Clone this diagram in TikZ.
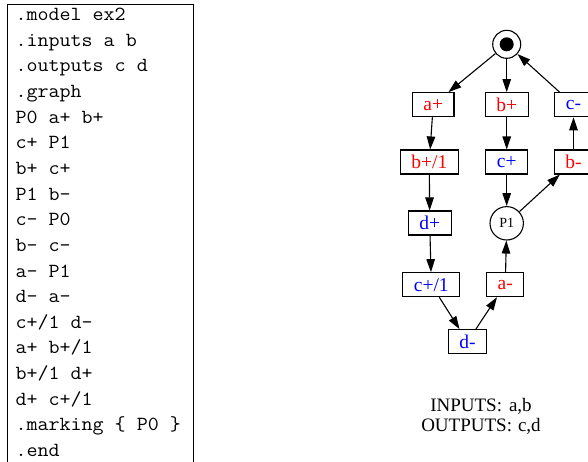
\documentclass[tikz,border=0pt]{standalone}
\usepackage{fontspec}
\usepackage{graphicx}
\newfontfamily\gvfont{Liberation Serif}
\usetikzlibrary{arrows.meta}
\definecolor{sigred}{RGB}{255,0,0}
\definecolor{sigblue}{RGB}{0,0,255}

\begin{document}
\begin{tikzpicture}[x=1pt, y=-1pt, line width=1.1pt,
  trans/.style={draw, rectangle, inner xsep=11pt, inner ysep=0pt, minimum height=24pt,
    font=\gvfont\fontsize{19.5}{20}\selectfont},
  insig/.style={trans, text=sigred},
  outsig/.style={trans, text=sigblue},
  place/.style={draw, circle, inner sep=0pt, font=\gvfont\fontsize{14}{14}\selectfont},
  arc/.style={-{Triangle[length=13pt, width=8.5pt]}},
  codeline/.style={anchor=base west, inner sep=0pt, font=\ttfamily\fontsize{20}{25}\selectfont}]

\clip (0,0) rectangle (588,461);

% ===== Left: the .g listing =====
\draw[line width=1pt] (7,475) -- (7,4) -- (193.5,4) -- (193.5,475);
\foreach \ln [count=\i] in {.model ex2,.inputs a b,.outputs c d,.graph,
    P0 a+ b+,c+ P1,b+ c+,P1 b-,c- P0,b- c-,a- P1,d- a-,
    c+/1 d-,a+ b+/1,b+/1 d+,d+ c+/1,.marking \{ P0 \},.end}
  \node[codeline] (line\i) at (15,{20.5+25.65*(\i-1)}) {\scalebox{1.07}[1]{\ln}};

% ===== Right: the Petri net =====
% Places
\node[place, minimum size=28pt] (P0) at (506.7,44.3) {};
\node[circle, fill, inner sep=0pt, minimum size=14pt] (token) at (P0) {};
\node[place, minimum size=33.4pt] (P1) at (506.7,223.3) {P1};

% Transitions
\node[insig]  (ap)  at (433.2,104.7) {a+};
\node[insig]  (bp)  at (506.7,104.7) {b+};
\node[outsig] (cm)  at (573.5,104.7) {c-};
\node[insig]  (bp1) at (429.3,162.0) {b+/1};
\node[outsig] (cp)  at (506.7,162.0) {c+};
\node[insig]  (bm)  at (573.5,162.0) {b-};
\node[outsig] (dp)  at (429.7,223.0) {d+};
\node[outsig] (cp1) at (431.3,284.7) {c+/1};
\node[insig]  (am)  at (505.3,284.7) {a-};
\node[outsig] (dm)  at (467.5,341.7) {d-};

% Arcs
\draw[arc] (P0) -- (ap);
\draw[arc] (P0) -- (bp);
\draw[arc] (cm) -- (P0);
\draw[arc] (ap) -- (bp1);
\draw[arc] (bp1) -- (dp);
\draw[arc] (dp) -- (cp1);
\draw[arc] (cp1) -- (dm);
\draw[arc] (dm) -- (am);
\draw[arc] (am) -- (P1);
\draw[arc] (bp) -- (cp);
\draw[arc] (cp) -- (P1);
\draw[arc] (P1) -- (bm);
\draw[arc] (bm) -- (cm);

% Interface
\node[font=\gvfont\fontsize{19}{20}\selectfont, align=center] (io) at (481,416)
  {INPUTS:\hspace{7pt}a,b\\OUTPUTS:\hspace{6pt}c,d};

\end{tikzpicture}
\end{document}
